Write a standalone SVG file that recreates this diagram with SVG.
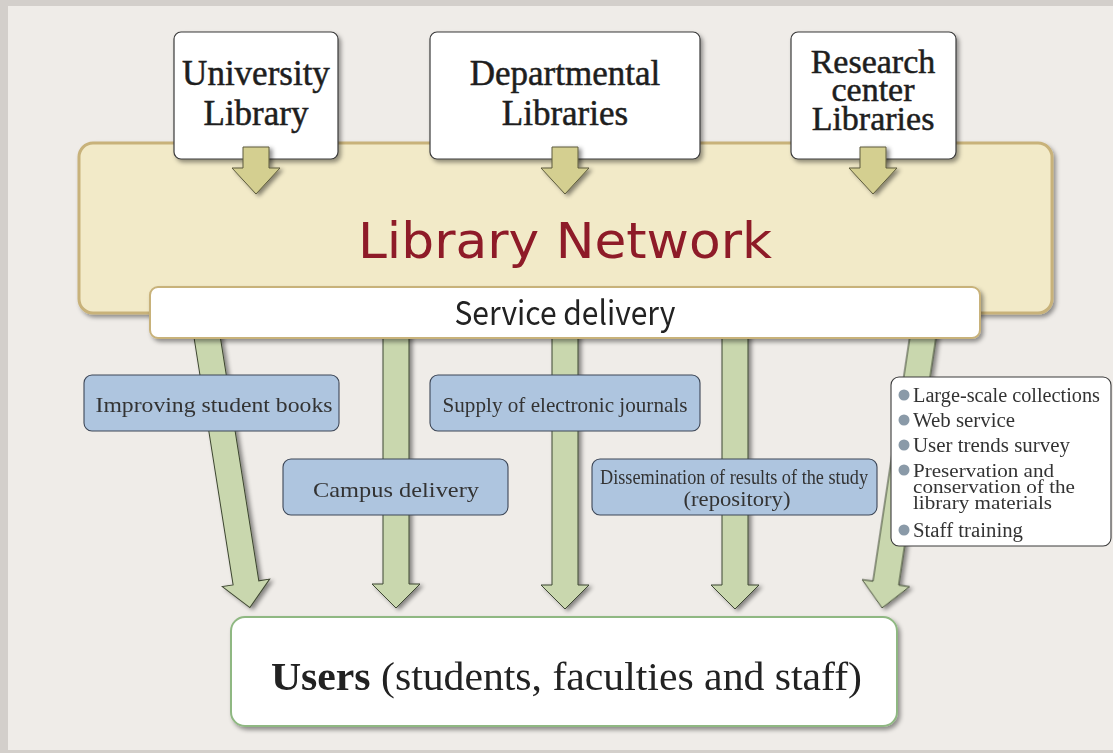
<svg xmlns="http://www.w3.org/2000/svg" width="1113" height="753" viewBox="0 0 1113 753">
<defs>
<filter id="sh" x="-10%" y="-10%" width="130%" height="140%">
<feDropShadow dx="2.5" dy="3" stdDeviation="2" flood-color="#000" flood-opacity="0.4"/>
</filter>
<filter id="sh2" x="-20%" y="-10%" width="150%" height="130%">
<feDropShadow dx="3" dy="2" stdDeviation="2" flood-color="#000" flood-opacity="0.45"/>
</filter>
<style>
.top{fill:#fff;stroke:#3a3a3a;stroke-width:1.2}
.topt{font-family:"Liberation Serif",serif;font-size:35px;fill:#1e1e1e;stroke:#1e1e1e;stroke-width:0.5;text-anchor:middle}
.olive{fill:#d4cf90;stroke:#5c5a3c;stroke-width:1}
.green{fill:#c9d7ae;stroke:#3d4630;stroke-width:1}
.blue{fill:#aec5df;stroke:#3c4656;stroke-width:1.1}
.bt{font-family:"Liberation Serif",serif;font-size:22px;fill:#333;text-anchor:middle}
.li{font-family:"Liberation Serif",serif;font-size:20px;fill:#333}
.dot{fill:#8a9aa8}
</style>
</defs>
<rect x="0" y="0" width="1113" height="753" fill="#d3cfcb"/>
<rect x="8" y="6" width="1105" height="744" fill="#efece8"/>

<g id="library-network">
<rect x="79" y="143" width="973" height="170" rx="14" fill="#f2eac8" stroke="#c8b27a" stroke-width="3" filter="url(#sh)"/>
<text x="565" y="258" font-family="'DejaVu Sans',sans-serif" font-size="49" fill="#8e1b28" text-anchor="middle" textLength="414" lengthAdjust="spacingAndGlyphs">Library Network</text>
</g>

<g id="university-library">
<rect class="top" x="174" y="32" width="164" height="127" rx="7" filter="url(#sh)"/>
<text class="topt" x="256" y="85">University</text>
<text class="topt" x="256" y="125">Library</text>
</g>
<g id="departmental-libraries">
<rect class="top" x="430" y="32" width="270" height="127" rx="7" filter="url(#sh)"/>
<text class="topt" x="565" y="85">Departmental</text>
<text class="topt" x="565" y="125">Libraries</text>
</g>
<g id="research-center-libraries">
<rect class="top" x="791" y="32" width="165" height="127" rx="7" filter="url(#sh)"/>
<text class="topt" x="873" y="73" style="font-size:34px">Research</text>
<text class="topt" x="873" y="101" style="font-size:34px">center</text>
<text class="topt" x="873" y="130" style="font-size:34px">Libraries</text>
</g>

<g id="connectors">
<g filter="url(#sh2)">
<polygon class="olive" points="243,147 269,147 269,168 280,168 256,194 232,168 243,168"/>
<polygon class="olive" points="552,147 578,147 578,168 589,168 565,194 541,168 552,168"/>
<polygon class="olive" points="860,147 886,147 886,168 897,168 873,194 849,168 860,168"/>
</g>
<g filter="url(#sh2)">
<polygon class="green" transform="translate(206,330) rotate(-8.98)" points="-13,0 13,0 13,256 24,256 0,281 -24,256 -13,256"/>
<polygon class="green" points="383,330 409,330 409,584 420,584 396,608 372,584 383,584"/>
<polygon class="green" points="552,330 578,330 578,585 589,585 565,609 541,585 552,585"/>
<polygon class="green" points="722,330 748,330 748,585 759,585 735,609 711,585 722,585"/>
<polygon class="green" transform="translate(924,330) rotate(8.57)" points="-13,0 13,0 13,256 24,256 0,281 -24,256 -13,256"/>
</g>
</g>

<g id="service-delivery">
<rect x="150" y="287" width="830" height="51" rx="8" fill="#fff" stroke="#c8b27a" stroke-width="2" filter="url(#sh)"/>
<text x="565" y="325" font-family="'Noto Sans CJK JP','Noto Sans',sans-serif" font-size="33" fill="#222" text-anchor="middle" textLength="221" lengthAdjust="spacingAndGlyphs">Service delivery</text>
</g>

<g id="improving-student-books">
<rect class="blue" x="84" y="375" width="255" height="56" rx="8"/>
<text class="bt" x="214" y="412" textLength="237" lengthAdjust="spacingAndGlyphs">Improving student books</text>
</g>
<g id="campus-delivery">
<rect class="blue" x="283" y="459" width="225" height="56" rx="8"/>
<text class="bt" x="396" y="497" textLength="166" lengthAdjust="spacingAndGlyphs">Campus delivery</text>
</g>
<g id="supply-electronic-journals">
<rect class="blue" x="430" y="375" width="270" height="56" rx="8"/>
<text class="bt" x="565" y="412" textLength="245" lengthAdjust="spacingAndGlyphs">Supply of electronic journals</text>
</g>
<g id="dissemination">
<rect class="blue" x="592" y="459" width="285" height="56" rx="8"/>
<text class="bt" x="734" y="484" style="font-size:20px" textLength="268" lengthAdjust="spacingAndGlyphs">Dissemination of results of the study</text>
<text class="bt" x="737" y="506" style="font-size:21px" textLength="107" lengthAdjust="spacingAndGlyphs">(repository)</text>
</g>

<g id="other-services">
<rect x="891" y="377" width="220" height="169" rx="8" fill="#fff" stroke="#3a3a3a" stroke-width="1.1"/>
<circle class="dot" cx="904" cy="395" r="5.5"/>
<text class="li" x="913" y="402" textLength="187" lengthAdjust="spacingAndGlyphs">Large-scale collections</text>
<circle class="dot" cx="904" cy="420" r="5.5"/>
<text class="li" x="913" y="427" textLength="102" lengthAdjust="spacingAndGlyphs">Web service</text>
<circle class="dot" cx="904" cy="445" r="5.5"/>
<text class="li" x="913" y="452" textLength="157" lengthAdjust="spacingAndGlyphs">User trends survey</text>
<circle class="dot" cx="904" cy="470" r="5.5"/>
<text class="li" x="913" y="477" style="font-size:19px" textLength="141" lengthAdjust="spacingAndGlyphs">Preservation and</text>
<text class="li" x="913" y="493" style="font-size:19px" textLength="162" lengthAdjust="spacingAndGlyphs">conservation of the</text>
<text class="li" x="913" y="509" style="font-size:19px" textLength="139" lengthAdjust="spacingAndGlyphs">library materials</text>
<circle class="dot" cx="904" cy="530" r="5.5"/>
<text class="li" x="913" y="537" textLength="110" lengthAdjust="spacingAndGlyphs">Staff training</text>
</g>

<g id="users">
<rect x="231" y="617" width="666" height="109" rx="14" fill="#fff" stroke="#8fb882" stroke-width="2" filter="url(#sh)"/>
<text x="271" y="690" font-family="'Liberation Serif',serif" font-size="40" fill="#222" textLength="591" lengthAdjust="spacingAndGlyphs"><tspan font-weight="bold">Users</tspan> (students, faculties and staff)</text>
</g>
</svg>
